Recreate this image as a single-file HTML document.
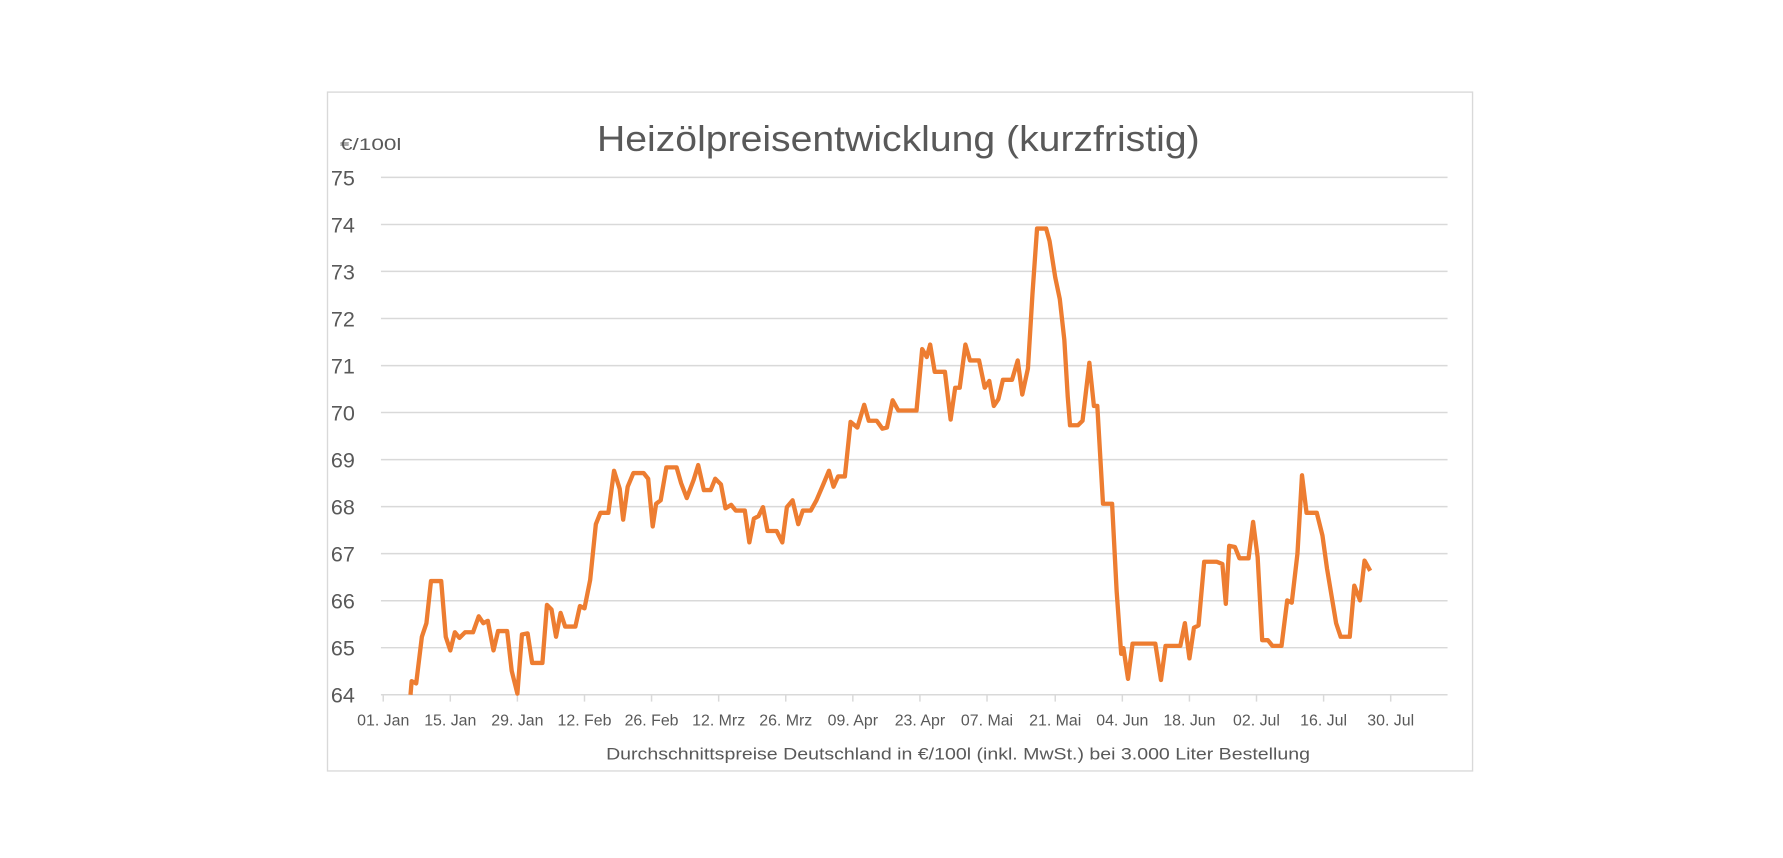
<!DOCTYPE html>
<html><head><meta charset="utf-8"><style>
html,body{margin:0;padding:0;background:#fff;}
svg{display:block;}
text{font-family:"Liberation Sans",sans-serif;fill:#595959;}
</style></head><body>
<svg width="1783" height="858" viewBox="0 0 1568 754.55" xmlns="http://www.w3.org/2000/svg">
<rect x="288" y="81" width="1007" height="597" fill="#fff" stroke="#d9d9d9" stroke-width="1.2"/>
<text x="525" y="133" font-size="32" textLength="530" lengthAdjust="spacingAndGlyphs">Heizölpreisentwicklung (kurzfristig)</text>
<text x="299" y="132" font-size="15" textLength="54" lengthAdjust="spacingAndGlyphs">€/100l</text>
<g stroke="#d9d9d9" stroke-width="1.3">
<line x1="335" x2="1273" y1="156" y2="156"/>
<line x1="335" x2="1273" y1="197.4" y2="197.4"/>
<line x1="335" x2="1273" y1="238.7" y2="238.7"/>
<line x1="335" x2="1273" y1="280.1" y2="280.1"/>
<line x1="335" x2="1273" y1="321.5" y2="321.5"/>
<line x1="335" x2="1273" y1="362.8" y2="362.8"/>
<line x1="335" x2="1273" y1="404.2" y2="404.2"/>
<line x1="335" x2="1273" y1="445.5" y2="445.5"/>
<line x1="335" x2="1273" y1="486.9" y2="486.9"/>
<line x1="335" x2="1273" y1="528.3" y2="528.3"/>
<line x1="335" x2="1273" y1="569.6" y2="569.6"/>
<line x1="335" x2="1273" y1="611" y2="611"/>
<line x1="337" x2="337" y1="611" y2="617"/><line x1="396" x2="396" y1="611" y2="617"/><line x1="455" x2="455" y1="611" y2="617"/><line x1="514" x2="514" y1="611" y2="617"/><line x1="573" x2="573" y1="611" y2="617"/><line x1="632" x2="632" y1="611" y2="617"/><line x1="691" x2="691" y1="611" y2="617"/><line x1="750" x2="750" y1="611" y2="617"/><line x1="809" x2="809" y1="611" y2="617"/><line x1="868" x2="868" y1="611" y2="617"/><line x1="928" x2="928" y1="611" y2="617"/><line x1="987" x2="987" y1="611" y2="617"/><line x1="1046" x2="1046" y1="611" y2="617"/><line x1="1105" x2="1105" y1="611" y2="617"/><line x1="1164" x2="1164" y1="611" y2="617"/><line x1="1223" x2="1223" y1="611" y2="617"/>
</g>
<g font-size="19">
<text x="291" y="163">75</text><text x="291" y="204.4">74</text><text x="291" y="245.7">73</text><text x="291" y="287.1">72</text><text x="291" y="328.5">71</text><text x="291" y="369.8">70</text><text x="291" y="411.2">69</text><text x="291" y="452.5">68</text><text x="291" y="493.9">67</text><text x="291" y="535.3">66</text><text x="291" y="576.6">65</text><text x="291" y="618">64</text>
</g>
<g font-size="14" text-anchor="middle">
<text x="337" y="638">01. Jan</text><text x="396" y="638">15. Jan</text><text x="455" y="638">29. Jan</text><text x="514" y="638">12. Feb</text><text x="573" y="638">26. Feb</text><text x="632" y="638">12. Mrz</text><text x="691" y="638">26. Mrz</text><text x="750" y="638">09. Apr</text><text x="809" y="638">23. Apr</text><text x="868" y="638">07. Mai</text><text x="928" y="638">21. Mai</text><text x="987" y="638">04. Jun</text><text x="1046" y="638">18. Jun</text><text x="1105" y="638">02. Jul</text><text x="1164" y="638">16. Jul</text><text x="1223" y="638">30. Jul</text>
</g>
<text x="533" y="668" font-size="15" textLength="619" lengthAdjust="spacingAndGlyphs">Durchschnittspreise Deutschland in €/100l (inkl. MwSt.) bei 3.000 Liter Bestellung</text>
<polyline fill="none" stroke="#ed7d31" stroke-width="3.8" stroke-linejoin="round" points="361,611 362,599 366,601 371,560 375,548 379,511 388,511 392,560 396,572 400,556 404,561 409,556 416,556 421,542 425,548 429,546 434,572 438,555 446,555 450,590 455,610 459,558 464,557 468,583 477,583 481,532 485,536 489,560 493,539 497,551 506,551 510,533 514,535 519,510 524,461 528,451 535,451 540,414 545,430 548,457 552,428 557,416 566,416 570,421 574,463 577,443 581,440 586,411 595,411 599,425 604,438 610,422 614,409 619,431 625,431 629,421 634,426 638,447 643,444 647,449 655,449 659,477 663,456 667,454 671,446 675,467 683,467 688,477 692,446 697,440 702,461 706,449 713,449 718,440 724,426 729,414 733,428 737,419 743,419 748,371 754,376 760,356 764,370 771,370 776,377 780,376 785,352 790,361 806,361 811,307 815,314 818,303 822,327 831,327 836,369 840,341 844,341 849,303 853,317 861,317 866,341 870,335 874,357 878,351 882,334 890,334 895,317 899,347 904,324 908,258 912,201 920,201 923,212 928,244 932,263 936,299 939,349 941,374 948,374 952,370 958,319 962,357 965,357 970,443 978,443 982,520 986,575 988,570 992,597 996,566 1016,566 1021,598 1025,568 1029,568 1038,568 1042,548 1046,579 1050,552 1054,550 1059,494 1070,494 1075,496 1078,531 1081,480 1086,481 1090,491 1098,491 1102,459 1106,490 1110,563 1115,563 1119,568 1127,568 1132,528 1136,530 1141,487 1145,418 1149,451 1158,451 1163,471 1167,500 1171,524 1175,548 1179,560 1187,560 1191,515 1196,528 1200,493 1205,502"/>
</svg>
</body></html>
